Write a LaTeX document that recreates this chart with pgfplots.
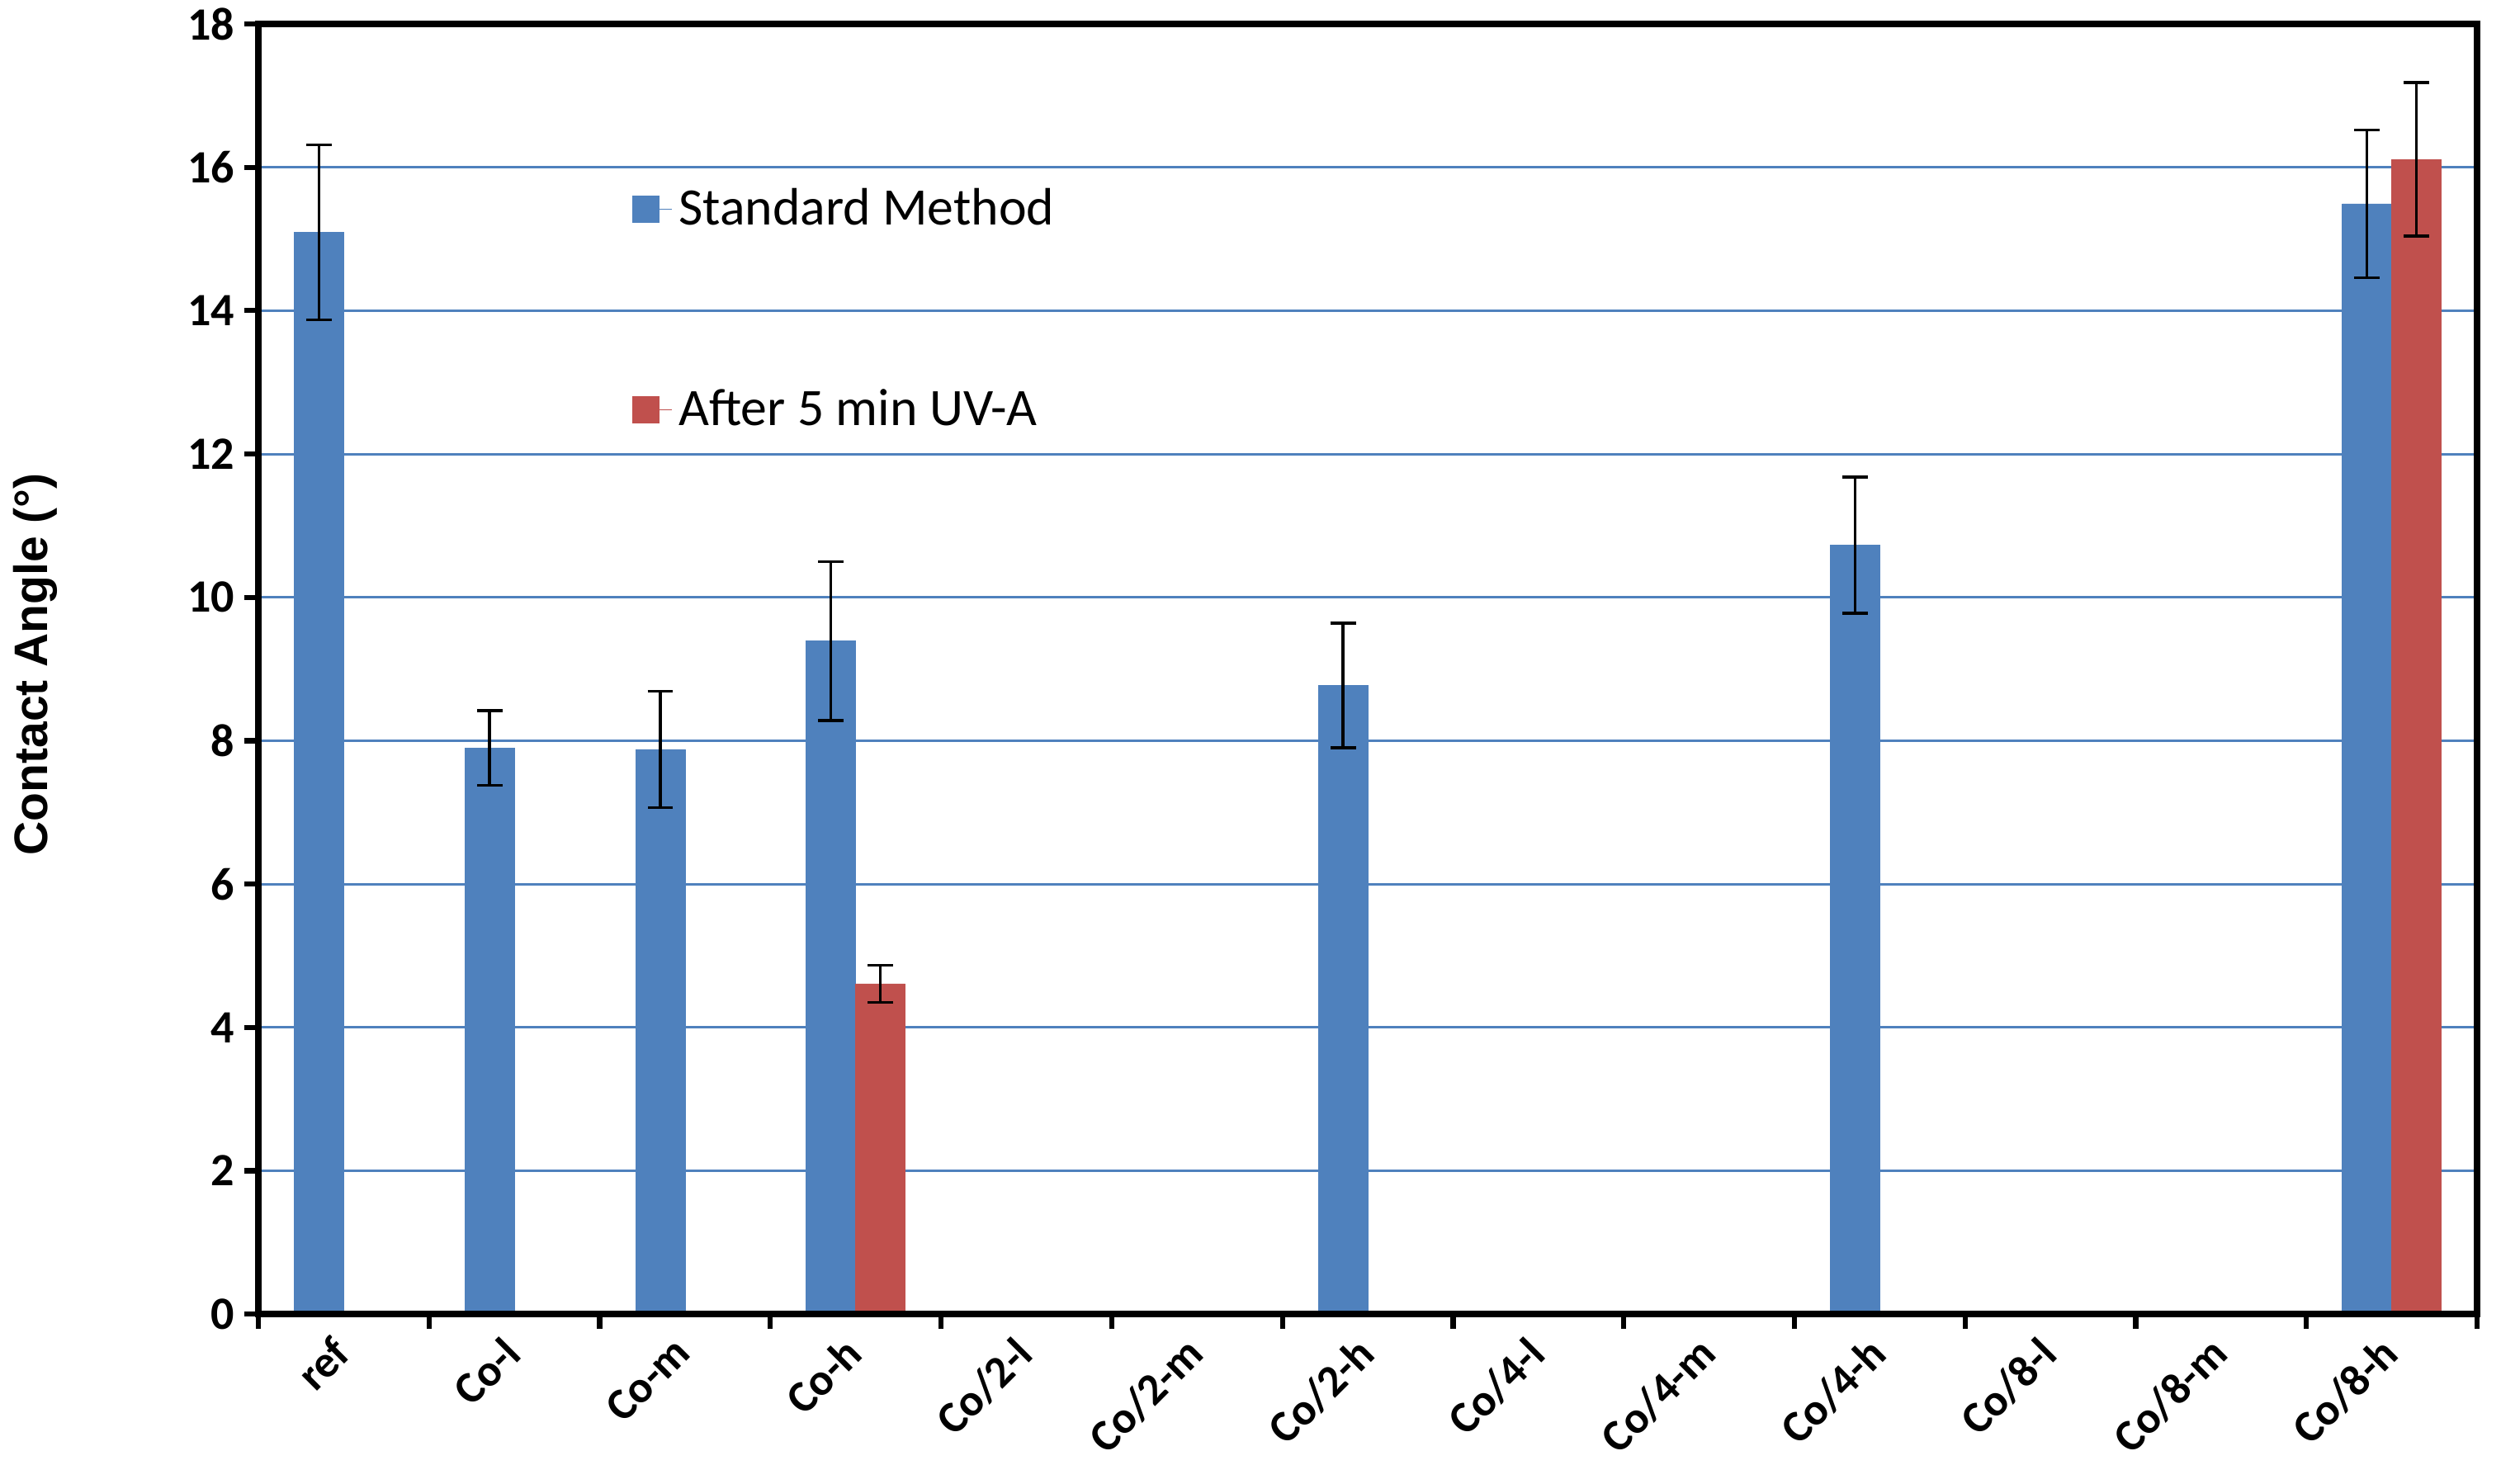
\documentclass[border=0pt]{standalone}
\usepackage{fontspec}
\setmainfont{Carlito}
\newfontfamily\arialfont{Liberation Sans}
\usepackage{pgfplots}
\pgfplotsset{compat=1.18}
\usepackage{pgfplotstable}
\definecolor{xblue}{HTML}{4F81BD}
\definecolor{xred}{HTML}{C0504D}
\pgfplotsset{
  layers/mylayers/.define layer set={axis background,axis grid,pre main,main,axis ticks,axis lines,axis tick labels,axis descriptions,axis foreground}{/pgfplots/layers/standard},
}
\pgfplotstableread{
x y e
0 15.09 1.22
1 7.90 0.52
2 7.88 0.81
3 9.39 1.11
6 8.77 0.87
9 10.73 0.95
12 15.49 1.03
}\bluedata
\pgfplotstableread{
x y e
3 4.61 0.26
12 16.11 1.07
}\reddata
\begin{document}
\begin{tikzpicture}
\begin{axis}[
  set layers=mylayers,
  scale only axis, width=695.5pt, height=404.5pt,
  xmin=-0.5, xmax=12.5, ymin=0, ymax=18,
  ybar=0pt, bar width=0.29,
  xtick={0,...,12},
  xticklabels={ref,Co-l,Co-m,Co-h,Co/2-l,Co/2-m,Co/2-h,Co/4-l,Co/4-m,Co/4-h,Co/8-l,Co/8-m,Co/8-h},
  minor xtick={-0.5,0.5,...,12.5},
  ytick={0,2,...,18},
  minor ytick={0,2,...,18},
  major tick length=0pt,
  minor tick length=4.5pt,
  tick align=outside,
  tick pos=left,
  tick style={black, line width=1.6pt},
  axis line style={black, line width=2pt},
  ymajorgrids,
  grid style={xblue, line width=0.8pt},
  /pgf/number format/assume math mode=true,
  x tick label style={rotate=45, anchor=north east, font=\fontsize{14}{17}\selectfont\bfseries, xshift=-3.9pt, yshift=2pt},
  y tick label style={font=\fontsize{14.5}{17}\selectfont\bfseries, xshift=-4pt},
  ylabel={Contact Angle (°)},
  ylabel style={font=\arialfont\fontsize{14.75}{17}\selectfont\bfseries, at={(rel axis cs:0,0.5)}, anchor=center, yshift=70pt, xshift=1.5pt},
  legend style={at={(rel axis cs:0.168,0.878)}, anchor=north west, draw=none, fill=none,
    font=\fontsize{16.5}{20}\selectfont, row sep=46pt, inner sep=0pt},
  legend cell align=left,
  legend image code/.code={\fill[#1,draw=none] (0pt,-4.25pt) rectangle (8.5pt,4.25pt); \path (0pt,0pt) -- (12.5pt,0pt);},
]
\coordinate (ll) at (rel axis cs:0,0);
\coordinate (ur) at (rel axis cs:1,1);
\addplot[fill=xblue, draw=xblue, line width=0.2pt,
  error bars/.cd, y dir=both, y explicit,
  error bar style={draw=black, line width=0.9pt},
  error mark=|,
  error mark options={draw=black, line width=0.9pt, mark size=4pt}]
  table[x=x, y=y, y error=e]{\bluedata};
\addlegendentry{Standard Method}
\addplot[fill=xred, draw=xred, line width=0.2pt,
  error bars/.cd, y dir=both, y explicit,
  error bar style={draw=black, line width=0.9pt},
  error mark=|,
  error mark options={draw=black, line width=0.9pt, mark size=4pt}]
  table[x=x, y=y, y error=e]{\reddata};
\addlegendentry{After 5 min UV-A}
\end{axis}
\pgfresetboundingbox
\path[use as bounding box] ([shift={(-81pt,-53pt)}]ll) rectangle ([shift={(7.5pt,7.5pt)}]ur);
\end{tikzpicture}
\end{document}
